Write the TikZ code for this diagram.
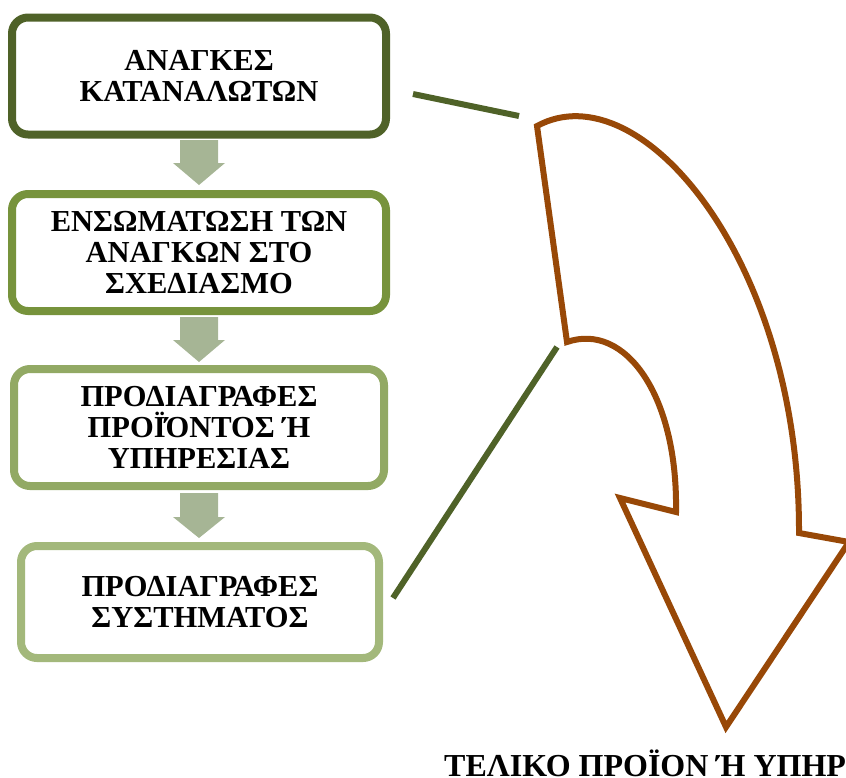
\documentclass[tikz,border=0pt]{standalone}
\usepackage{fontspec}
\setmainfont{Liberation Serif}
\definecolor{gA}{HTML}{4F6228}
\definecolor{gB}{HTML}{77933C}
\definecolor{gC}{HTML}{92A964}
\definecolor{gD}{HTML}{A3B87B}
\definecolor{gArr}{HTML}{A6B595}
\definecolor{brn}{HTML}{984807}
\tikzset{
  stage/.style={draw=#1, line width=8pt, rounded corners=16pt, fill=white,
    align=center, inner sep=0pt, font=\fontsize{30.5}{31}\selectfont\bfseries},
  blockarrow/.style={fill=gArr, draw=none},
  link/.style={draw=gA, line width=6pt},
  bigarrow/.style={draw=brn, line width=6pt, line join=miter, fill=white}
}
\begin{document}
\begin{tikzpicture}[x=1pt,y=-1pt]
\useasboundingbox (0,0) rectangle (846,777);
\clip (0,0) rectangle (846,777);
% boxes
\node[stage=gA, minimum width=374pt, minimum height=117pt] (b1) at (199,76) {ΑΝΑΓΚΕΣ\\ΚΑΤΑΝΑΛΩΤΩΝ};
\node[stage=gB, minimum width=374pt, minimum height=117pt] (b2) at (199,252.5) {ΕΝΣΩΜΑΤΩΣΗ ΤΩΝ\\ΑΝΑΓΚΩΝ ΣΤΟ\\ΣΧΕΔΙΑΣΜΟ};
\node[stage=gC, minimum width=370pt, minimum height=117pt] (b3) at (199,427.5) {ΠΡΟΔΙΑΓΡΑΦΕΣ\\ΠΡΟΪΌΝΤΟΣ Ή\\ΥΠΗΡΕΣΙΑΣ};
\node[stage=gD, minimum width=358pt, minimum height=112pt] (b4) at (200,602) {ΠΡΟΔΙΑΓΡΑΦΕΣ\\ΣΥΣΤΗΜΑΤΟΣ};
% small block arrows between boxes
\foreach \t/\h/\p in {140/163/185, 317/340/362, 493/517/538}{
  \fill[blockarrow] (180,\t) -- (218,\t) -- (218,\h) -- (225,\h) -- (199,\p) -- (173,\h) -- (180,\h) -- cycle;
}
% big curved arrow
\coordinate (aTop) at (537,126);
\coordinate (aInner) at (567,342);
\draw[bigarrow] (aTop) .. controls (640,70) and (800,260) .. (799,533)
  -- (849,542) -- (726,727) -- (620,498) -- (676,512)
  .. controls (678,395) and (625,322) .. (aInner) -- cycle;
% links
\coordinate (l1a) at (413,94);
\coordinate (l1b) at (519,116);
\coordinate (l2a) at (557,347);
\coordinate (l2b) at (393,598);
\draw[link] (l1a) -- (l1b);
\draw[link] (l2a) -- (l2b);
% final label (cut by the right and bottom edges, as in the reference)
\node[anchor=base west, inner sep=0pt, font=\fontsize{32}{33}\selectfont\bfseries] (final) at (444,776) {ΤΕΛΙΚΟ ΠΡΟΪΟΝ Ή ΥΠΗΡΕΣΙΑ};
\end{tikzpicture}
\end{document}
